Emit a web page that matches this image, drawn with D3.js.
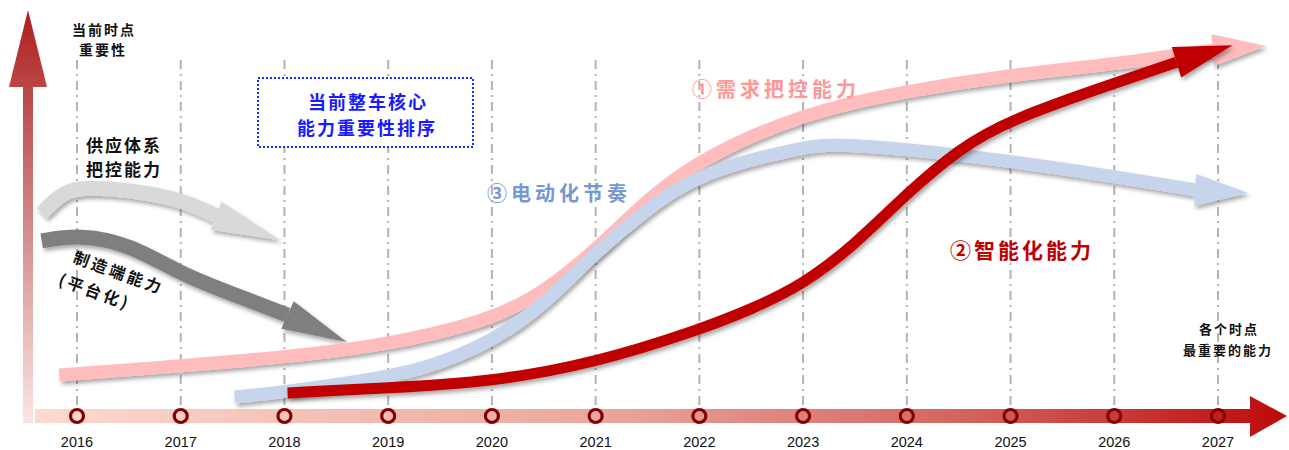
<!DOCTYPE html>
<html>
<head>
<meta charset="utf-8">
<script src="https://cdn.jsdelivr.net/npm/d3@7"></script>
<style>
  body { margin: 0; background: #fff; }
  svg { display: block; }
  .cn { font-family: "Noto Sans CJK SC", sans-serif; font-weight: bold; }
</style>
</head>
<body>
<svg id="chart" width="1289" height="450"></svg>
<script>
// years on the time axis
var years = [2016, 2017, 2018, 2019, 2020, 2021, 2022, 2023, 2024, 2025, 2026, 2027];

// ① 需求把控能力 (last point = arrow tip)
var demandYears = [2015.83, 2017, 2018, 2019, 2020, 2020.5, 2021, 2021.5, 2022, 2023, 2024, 2025, 2026, 2026.95, 2027.46];
var demandVals  = [9.2, 11.6, 13.9, 17.1, 23.7, 31, 42, 55.5, 66, 78.2, 84, 88.2, 91, 94.7, 95.8];

// ③ 电动化节奏
var evYears = [2017.52, 2018, 2019, 2019.4, 2020, 2020.5, 2021, 2021.5, 2022, 2023, 2023.3, 2024, 2025, 2026, 2026.78, 2027.29];
var evVals  = [3.4, 4.7, 8.7, 11.3, 17.9, 27.6, 41.5, 53, 62.5, 69.3, 70, 68.7, 65.5, 61.5, 57.9, 57.1];

// ② 智能化能力
var smartYears = [2018.03, 2019, 2020, 2021, 2022, 2022.5, 2023, 2023.5, 2024, 2024.5, 2025, 2026, 2026.6, 2027.14];
var smartVals  = [4.5, 5.8, 7.4, 12.4, 21.1, 26.5, 33, 43.5, 57, 68.7, 76.5, 86, 91.5, 96];

// 供应体系把控能力 (declining)
var supplyYears = [2015.66, 2015.86, 2016.08, 2016.51, 2017.02, 2017.34, 2017.96];
var supplyVals  = [51.8, 57.4, 58.7, 57.9, 55.3, 51.1, 44.7];

// 制造端能力（平台化）
var mfgYears = [2015.66, 2016.03, 2016.51, 2017.02, 2017.52, 2018.03, 2018.6];
var mfgVals  = [44.5, 46.2, 43.6, 35.5, 30.3, 25, 17.9];

var svg = d3.select('#chart');

var x = d3.scaleLinear().domain([2016, 2027]).range([77, 1218]);
var y = d3.scaleLinear().domain([0, 100]).range([410, 30]);

var defs = svg.append('defs');

var vg = defs.append('linearGradient').attr('id', 'vgrad')
  .attr('gradientUnits', 'userSpaceOnUse')
  .attr('x1', 0).attr('y1', 10).attr('x2', 0).attr('y2', 420);
vg.append('stop').attr('offset', 0).attr('stop-color', '#ae1f1f');
vg.append('stop').attr('offset', 0.5).attr('stop-color', '#cf8585');
vg.append('stop').attr('offset', 1).attr('stop-color', '#fbe4e2');

var hg = defs.append('linearGradient').attr('id', 'hgrad')
  .attr('gradientUnits', 'userSpaceOnUse')
  .attr('x1', 35).attr('y1', 0).attr('x2', 1287).attr('y2', 0);
hg.append('stop').attr('offset', 0).attr('stop-color', '#fddacf');
hg.append('stop').attr('offset', 0.45).attr('stop-color', '#eaa79d');
hg.append('stop').attr('offset', 0.75).attr('stop-color', '#d2625e');
hg.append('stop').attr('offset', 1).attr('stop-color', '#bd0a0a');

var f = defs.append('filter').attr('id', 'shadow')
  .attr('x', '-10%').attr('y', '-20%').attr('width', '130%').attr('height', '160%');
f.append('feDropShadow').attr('dx', 2).attr('dy', 3).attr('stdDeviation', 2)
  .attr('flood-color', '#000').attr('flood-opacity', 0.35);

// dash-dot gridlines
svg.append('g').selectAll('line')
  .data(years)
  .enter().append('line')
  .attr('x1', d => x(d)).attr('x2', d => x(d))
  .attr('y1', 60).attr('y2', 405)
  .style('stroke', '#b3b3b3')
  .style('stroke-width', 2)
  .style('stroke-dasharray', '9,5,2,5');

// vertical axis arrow
svg.append('path')
  .attr('d', 'M23,423 L23,87 L9,87 L28,10 L47,87 L33,87 L33,423 Z')
  .style('fill', 'url(#vgrad)');

// horizontal axis arrow
svg.append('path')
  .attr('d', 'M35,409 L1250,409 L1250,396 L1287,416 L1250,437 L1250,423 L35,423 Z')
  .style('fill', 'url(#hgrad)');

svg.append('g').selectAll('circle')
  .data(years)
  .enter().append('circle')
  .attr('cx', d => x(d))
  .attr('cy', 416)
  .attr('r', 6.5)
  .style('fill', 'url(#hgrad)')
  .style('stroke', '#850000')
  .style('stroke-width', 3.2);

svg.append('g').selectAll('text')
  .data(years)
  .enter().append('text')
  .attr('x', d => x(d))
  .attr('y', 447)
  .attr('text-anchor', 'middle')
  .style('font-family', '"Liberation Sans", Arial, sans-serif')
  .style('font-size', '14.5px')
  .style('fill', '#111')
  .text(d => d);

var line = d3.line()
  .x(d => x(d[0]))
  .y(d => y(d[1]))
  .curve(d3.curveBasis);

function drawArrow(xs, vs, color, width, half) {
  var pts = xs.map((d, i) => [d, vs[i]]);
  var g = svg.append('g').attr('filter', 'url(#shadow)');
  var shaft = pts.slice(0, pts.length - 1);
  g.append('path')
    .attr('d', line(shaft))
    .style('fill', 'none')
    .style('stroke', color)
    .style('stroke-width', width);
  var b = pts[pts.length - 2], t = pts[pts.length - 1];
  var bx = x(b[0]), by = y(b[1]), tx = x(t[0]), ty = y(t[1]);
  var len = Math.hypot(tx - bx, ty - by);
  var nx = -(ty - by) / len, ny = (tx - bx) / len;
  g.append('path')
    .attr('d', 'M' + (bx + nx * half) + ',' + (by + ny * half) +
      'L' + tx + ',' + ty +
      'L' + (bx - nx * half) + ',' + (by - ny * half) + 'Z')
    .style('fill', color);
}

drawArrow(supplyYears, supplyVals, '#d9d9d9', 15, 15);
drawArrow(mfgYears, mfgVals, '#7f7f7f', 15, 15);
drawArrow(demandYears, demandVals, '#ffbcbc', 13, 16);
drawArrow(evYears, evVals, '#c6d4ec', 13, 16);
drawArrow(smartYears, smartVals, '#c00000', 11, 16);

// texts
function label(txt, px, py, size, color, spacing) {
  return svg.append('text')
    .attr('class', 'cn')
    .attr('x', px).attr('y', py)
    .attr('text-anchor', 'middle')
    .style('font-size', size + 'px')
    .style('fill', color)
    .style('letter-spacing', (spacing == null ? 2 : spacing) + 'px')
    .text(txt);
}

label('当前时点', 104, 35, 14, '#111');
label('重要性', 103, 55, 14, '#111');

label('供应体系', 124, 152, 17, '#111');
label('把控能力', 124, 176, 17, '#111');

var rot = svg.append('g').attr('transform', 'translate(72,262) rotate(20)');
rot.append('text').attr('class', 'cn').attr('x', 0).attr('y', 0)
  .style('font-size', '16px').style('letter-spacing', '3px').style('fill', '#111')
  .text('制造端能力');
rot.append('text').attr('class', 'cn').attr('x', -6).attr('y', 26)
  .style('font-size', '16px').style('letter-spacing', '3px').style('fill', '#111')
  .text('(平台化)');

svg.append('rect')
  .attr('x', 258).attr('y', 78).attr('width', 215).attr('height', 69)
  .style('fill', '#fff')
  .style('stroke', '#1030ff')
  .style('stroke-width', 2)
  .style('stroke-dasharray', '2,2');
label('当前整车核心', 368, 109, 18, '#1a1aff');
label('能力重要性排序', 367, 135, 18, '#1a1aff');

label('①需求把控能力', 776, 97, 20, '#ff9797', 4);
label('③电动化节奏', 559, 201, 20, '#7797d2', 4);
label('②智能化能力', 1022, 258, 21, '#c00000', 3);

label('各个时点', 1229, 334, 13, '#111');
label('最重要的能力', 1228, 355, 13, '#111');
</script>
</body>
</html>
